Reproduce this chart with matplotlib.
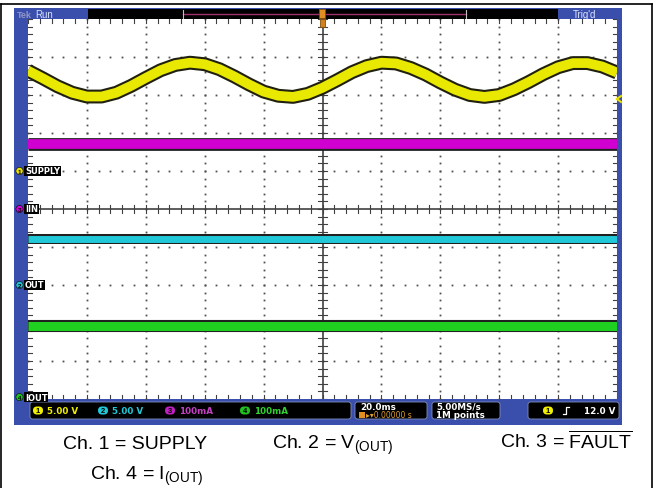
import matplotlib
matplotlib.use("Agg")
import matplotlib.pyplot as plt
from matplotlib.patches import Rectangle, FancyBboxPatch, Circle
import numpy as np

plt.rcParams['font.family'] = ['Liberation Sans', 'DejaVu Sans']
plt.rcParams['mathtext.fontset'] = 'custom'
plt.rcParams['mathtext.rm'] = 'Liberation Sans'
plt.rcParams['mathtext.it'] = 'Liberation Sans:italic'

# ---------------- data (graticule divisions) ----------------
time_div = [-5.0, -4.75, -4.5, -4.25, -4.0, -3.75, -3.5, -3.25, -3.0, -2.75,
            -2.5, -2.25, -2.0, -1.75, -1.5, -1.25, -1.0, -0.75, -0.5, -0.25,
            0.0, 0.25, 0.5, 0.75, 1.0, 1.25, 1.5, 1.75, 2.0, 2.25,
            2.5, 2.75, 3.0, 3.25, 3.5, 3.75, 4.0, 4.25, 4.5, 4.75, 5.0]
supply_div = [3.64, 3.44, 3.23, 3.06, 2.96, 2.96, 3.06, 3.24, 3.45, 3.65,
              3.79, 3.85, 3.81, 3.68, 3.49, 3.28, 3.09, 2.98, 2.95, 3.03,
              3.19, 3.39, 3.60, 3.76, 3.85, 3.83, 3.71, 3.54, 3.33, 3.14,
              3.00, 2.95, 3.00, 3.15, 3.34, 3.55, 3.73, 3.84, 3.84, 3.75, 3.59]
iin_level = 1.71      # ch3 (magenta) trace level, div
vout_level = -0.79    # ch2 (cyan) trace level, div
iout_level = -3.08    # ch4 (green) trace level, div

ref_names = ['SUPPLY', 'IIN', 'OUT', 'IOUT']
ref_levels = [1.0, 0.0, -2.0, -4.95]
ref_nums = ['1', '3', '2', '4']
ref_colors = ['#e8e000', '#d000d0', '#20c0d0', '#20c020']

scale_nums = ['1', '2', '3', '4']
scale_texts = ['5.00 V', '5.00 V', '100mA', '100mA']
scale_colors = ['#f0f000', '#20c8d8', '#c020c0', '#20c020']
scale_textcolors = ['#f0f000', '#20c8d8', '#c040c0', '#30d030']

captions = ['Ch. 1 = SUPPLY', r'Ch. 2 = V$_{\mathrm{(OUT)}}$',
            r'Ch. 3 = $\overline{\mathrm{FAULT}}$', r'Ch. 4 = I$_{\mathrm{(OUT)}}$']

W, H = 654, 489
fig = plt.figure(figsize=(W / 100, H / 100), dpi=100)
bg = fig.add_axes([0, 0, 1, 1])
bg.set_xlim(0, W)
bg.set_ylim(H, 0)
bg.axis('off')

# outer frame
bg.plot([0.5, W - 2], [5, 5], color='black', lw=1.2)
bg.plot([W - 2, W - 2], [5, H], color='black', lw=1.2)
bg.plot([0.5, 0.5], [5, H], color='black', lw=1.2)

BLUE = '#3a4eac'
bg.add_patch(Rectangle((14, 9), 608, 417, facecolor=BLUE, edgecolor='none'))
# top status bar
bg.add_patch(Rectangle((88, 10), 470, 10, facecolor='black', edgecolor='none'))
bg.plot([183, 466], [15, 15], color='#a0306a', lw=1)
bg.plot([183, 183], [11, 19], color='#c0c0c0', lw=0.8)
bg.plot([466, 466], [11, 19], color='#c0c0c0', lw=0.8)
bg.text(17, 15, 'Tek', color='#9098c8', fontsize=6.5, fontweight='bold', va='center', ha='left')
bg.text(35, 15, 'Run', color='#d8e0ff', fontsize=7, va='center', ha='left')
bg.text(573, 15, "Trig'd", color='#e0e4ff', fontsize=7, va='center', ha='left')

# graticule axes (10 x 10 divisions)
L, T, R, B = 28, 20, 617, 400
NY = 5
ax = fig.add_axes([L / W, (H - B) / H, (R - L) / W, (B - T) / H])
ax.set_xlim(-5, 5)
ax.set_ylim(-NY, NY)
ax.set_facecolor('white')
for s in ax.spines.values():
    s.set_visible(False)
ax.set_xticks([])
ax.set_yticks([])

dot_c = '#505050'
minor_y = np.arange(-NY, NY + 0.001, 0.2)
minor_x = np.arange(-5, 5.001, 0.2)
for k in range(-4, 5):
    if k == 0:
        continue
    ax.plot(np.full_like(minor_y, k), minor_y, ls='none', marker='s', ms=1.3, color=dot_c, mew=0)
for j in range(-NY + 1, NY):
    if j == 0:
        continue
    ax.plot(minor_x, np.full_like(minor_x, j), ls='none', marker='s', ms=1.3, color=dot_c, mew=0)
# center cross with ticks
ax.plot([0, 0], [-NY, NY], color='#303030', lw=1.1)
ax.plot([-5, 5], [0, 0], color='#303030', lw=1.1)
for yy in minor_y:
    ax.plot([-0.07, 0.07], [yy, yy], color='#404040', lw=0.8)
for xx in minor_x:
    ax.plot([xx, xx], [-0.1, 0.1], color='#404040', lw=0.8)
# edge ticks
for xx in minor_x:
    ax.plot([xx, xx], [NY - 0.1, NY], color='#404040', lw=0.8)
    ax.plot([xx, xx], [-NY, -NY + 0.1], color='#404040', lw=0.8)
for yy in minor_y:
    ax.plot([-5, -4.93], [yy, yy], color='#404040', lw=0.8)
    ax.plot([4.93, 5], [yy, yy], color='#404040', lw=0.8)

# traces
ax.plot(time_div, supply_div, color='#202010', lw=10, solid_capstyle='butt', zorder=5)
ax.plot(time_div, supply_div, color='#e8e800', lw=7, solid_capstyle='butt', zorder=6)
for lvl, col, lw in [(iin_level, '#d000d0', 7.0), (vout_level, '#20c8d8', 5.0), (iout_level, '#20d020', 6.5)]:
    ax.plot([-5, 5], [lvl, lvl], color='#202020', lw=lw + 2.2, solid_capstyle='butt', zorder=5)
    ax.plot([-5, 5], [lvl, lvl], color=col, lw=lw, solid_capstyle='butt', zorder=6)

# overlay for markers and labels
fg = fig.add_axes([0, 0, 1, 1])
fg.set_xlim(0, W)
fg.set_ylim(H, 0)
fg.axis('off')
fg.patch.set_alpha(0)

# trigger position marker
fg.add_patch(Rectangle((319, 10), 6, 9, facecolor='#e09020', edgecolor='#805010', lw=0.6, zorder=5))
fg.add_patch(Rectangle((319.5, 20), 5, 8, facecolor='#d08020', edgecolor='#805010', lw=0.6, zorder=5))
fg.plot([617, 621], [100, 97], color='#e8e000', lw=1.5)
fg.plot([617, 621], [100, 103], color='#e8e000', lw=1.5)

def ypx(d):
    return T + (NY - d) * (B - T) / (2.0 * NY)

for name, lvl, num, col in zip(ref_names, ref_levels, ref_nums, ref_colors):
    y = ypx(lvl)
    fg.add_patch(Circle((19.5, y), 3.6, facecolor=col, edgecolor='black', lw=0.4, zorder=7))
    fg.text(19.5, y, num, fontsize=4.5, color='black', ha='center', va='center', zorder=8, fontweight='bold')
    fg.text(25, y, name, fontsize=6, color='white', ha='left', va='center', zorder=8,
            fontweight='bold', family='DejaVu Sans Condensed',
            bbox=dict(boxstyle='square,pad=0.1', facecolor='black', edgecolor='none'))

# bottom status boxes
def box(x0, x1, y0=403, y1=420):
    bg.add_patch(FancyBboxPatch((x0, y0), x1 - x0, y1 - y0, boxstyle='round,pad=0,rounding_size=2.5',
                                facecolor='black', edgecolor='#8090c0', lw=0.6, zorder=6))

box(30, 351)
box(355, 427)
box(432, 500)
box(528, 619)
xs = [38, 103, 170, 245]
for x0, n, t, c, tc in zip(xs, scale_nums, scale_texts, scale_colors, scale_textcolors):
    bg.add_patch(FancyBboxPatch((x0 - 5, 407.5), 10, 8, boxstyle='round,pad=0,rounding_size=4',
                                facecolor=c, edgecolor='none', zorder=7))
    bg.text(x0, 411.5, n, fontsize=5.5, color='black', ha='center', va='center', zorder=8, fontweight='bold')
    bg.text(x0 + 9, 411.5, t, fontsize=6.3, color=tc, ha='left', va='center', zorder=8,
            fontweight='bold', family='DejaVu Sans Condensed')
bg.text(360, 407.5, '20.0ms', fontsize=6.3, color='white', ha='left', va='center', zorder=8,
        fontweight='bold', family='DejaVu Sans Condensed')
bg.add_patch(Rectangle((359, 413), 6, 6, facecolor='#e09020', zorder=7))
bg.text(366, 416, '\u25b8\u25be0.00000 s', fontsize=5.5, color='#e0a030', ha='left', va='center', zorder=8,
        family='DejaVu Sans Condensed')
bg.text(436, 407.5, '5.00MS/s', fontsize=6.3, color='white', ha='left', va='center', zorder=8,
        fontweight='bold', family='DejaVu Sans Condensed')
bg.text(436, 416, '1M points', fontsize=6.3, color='white', ha='left', va='center', zorder=8,
        fontweight='bold', family='DejaVu Sans Condensed')
bg.add_patch(FancyBboxPatch((543, 407.5), 10, 8, boxstyle='round,pad=0,rounding_size=4',
                            facecolor='#f0f000', edgecolor='none', zorder=7))
bg.text(548, 411.5, '1', fontsize=5.5, color='black', ha='center', va='center', zorder=8, fontweight='bold')
bg.plot([563, 566, 566, 569], [415, 415, 408, 408], color='white', lw=0.9, zorder=8)
bg.text(615, 411.5, '12.0 V', fontsize=6.3, color='white', ha='right', va='center', zorder=8,
        fontweight='bold', family='DejaVu Sans Condensed')

# captions
cap_pos = [(63, 449), (272, 449), (500, 449), (90, 480)]
for (x, y), c in zip(cap_pos, captions):
    bg.text(x, y, c, fontsize=14, color='black', ha='left', va='baseline')

fig.savefig('out.png', dpi=100)
